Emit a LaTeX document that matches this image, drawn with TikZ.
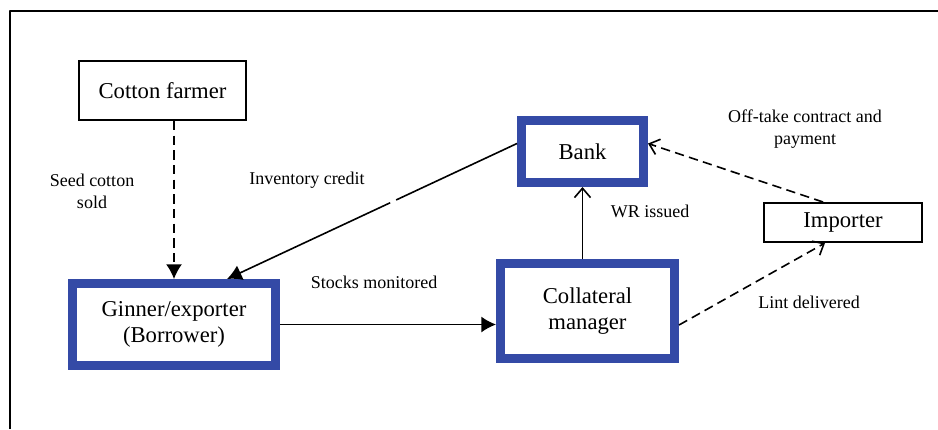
\documentclass[tikz,border=0pt]{standalone}
\usepackage{fontspec}
\setmainfont{Liberation Serif}
\usetikzlibrary{arrows.meta,calc}
\definecolor{boxblue}{RGB}{52,74,166}
\begin{document}
\begin{tikzpicture}[x=0.75pt,y=-0.75pt, line join=round]
\tikzstyle{thinbox} = [draw,line width=1.5pt,line join=miter,align=center,font=\fontsize{17}{19.5}\selectfont]
\tikzstyle{bluebox} = [draw=boxblue,line width=6.75pt,line join=miter,align=center,font=\fontsize{17}{19.5}\selectfont]
\tikzstyle{lbl} = [align=center,font=\fontsize{13.5}{16.5}\selectfont]
\tikzstyle{fillarrow} = [draw,line width=1.2pt,-{Latex[length=11pt,width=12pt]}]
\tikzstyle{openarrow} = [draw,line width=1.2pt,-{Straight Barb[length=7pt,width=12pt]}]
\tikzstyle{dashy} = [dash pattern=on 7pt off 4pt]
  \useasboundingbox (0,0) rectangle (938,429);
  \draw[line width=1pt] (10,429) -- (10,11) -- (938,11);
  % boxes
  \node[thinbox,minimum width=125.25pt,minimum height=44.25pt] (farmer) at (162.5,90.5) {Cotton farmer};
  \node[bluebox,minimum width=152.25pt,minimum height=61.5pt] (ginner) at (174,324.5) {Ginner/exporter\\(Borrower)};
  \node[bluebox,minimum width=91.5pt,minimum height=46.5pt] (bank) at (582.5,151.5) {Bank};
  \node[bluebox,minimum width=130.5pt,minimum height=71.25pt] (cm) at (587.5,311) {Collateral\\manager};
  \node[thinbox,minimum width=118.5pt,minimum height=29.25pt] (importer) at (843,222.5) {Importer};
  % labels
  \node[lbl] (seed) at (92,191) {Seed cotton\\sold};
  \node[lbl] (credit) at (307,180) {Inventory credit};
  \node[lbl] (stocks) at (374,282) {Stocks monitored};
  \node[lbl] (wr) at (650,211) {WR issued};
  \node[lbl] (offtake) at (805,129) {Off-take contract and\\payment};
  \node[lbl] (lint) at (809,302) {Lint delivered};
  % flows
  \draw[fillarrow,dashy] (farmer.south -| ginner.north) -- (ginner.north);
  \draw[fillarrow,dash pattern=on 100pt off 5pt on 400pt] ($(bank.west)+(0,-8)$) -- ($(ginner.north)!0.5!(ginner.north east)$);
  \draw[fillarrow] (ginner.east) -- (ginner.east -| cm.west);
  \draw[openarrow] (cm.north -| bank.south) -- (bank.south);
  \draw[openarrow,dashy] ($(cm.east)+(0,14)$) -- ($(importer.south)+(-18,0)$);
  \draw[openarrow,dashy] ($(importer.north)+(-20,0)$) -- ($(bank.east)+(0,-8)$);
\end{tikzpicture}
\end{document}
